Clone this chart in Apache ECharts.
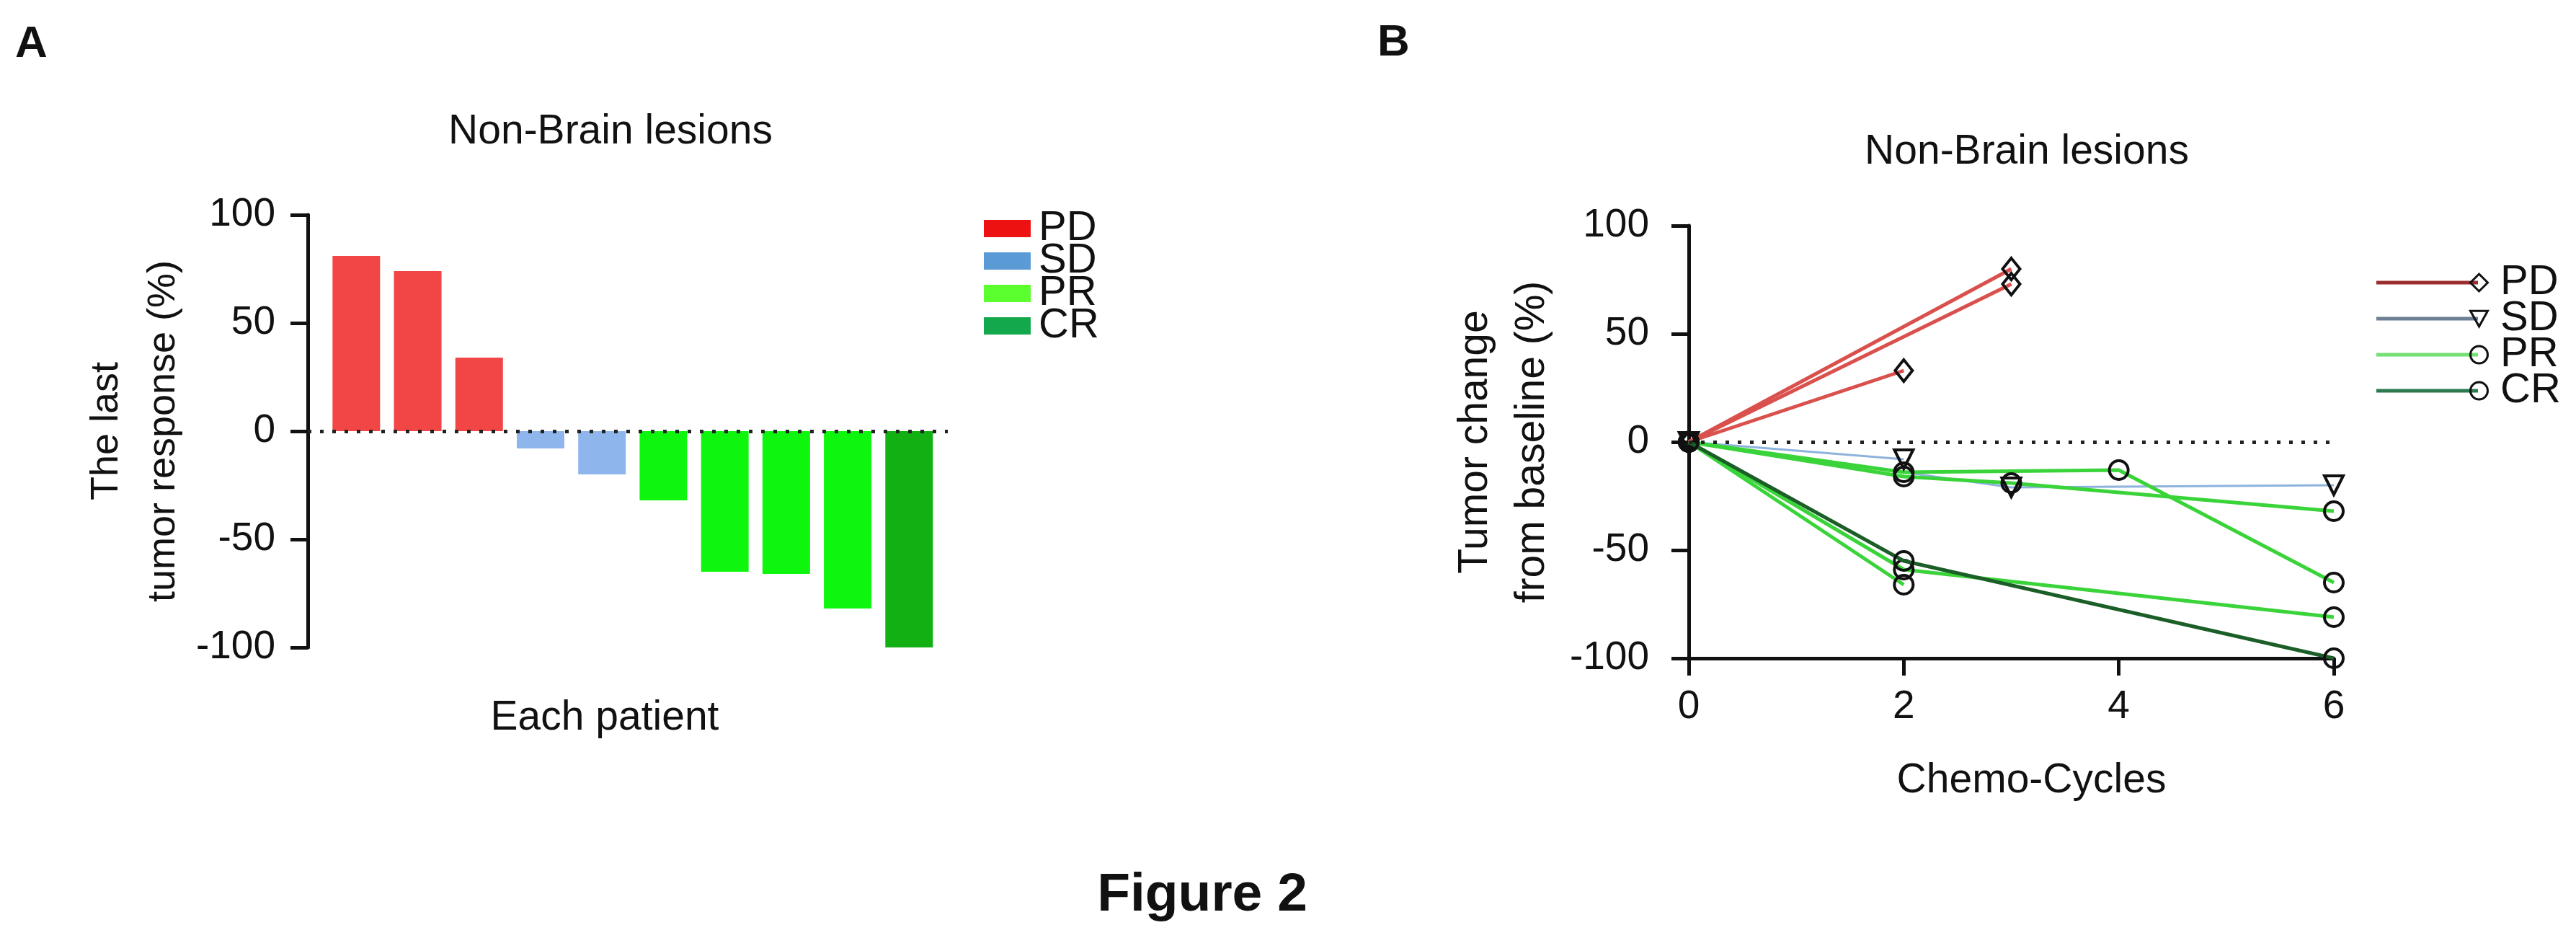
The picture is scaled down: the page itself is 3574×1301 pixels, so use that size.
<!DOCTYPE html>
<html>
<head>
<meta charset="utf-8">
<title>Figure 2</title>
<script src="https://cdn.jsdelivr.net/npm/echarts@6.0.0/dist/echarts.min.js"></script>
<style>
html,body{margin:0;padding:0;background:#fff;}
#main{width:3574px;height:1301px;}
</style>
</head>
<body>
<div id="main"></div>
<script>
// panel A : last response of each patient
var patients = [1, 2, 3, 4, 5, 6, 7, 8, 9, 10];
var lastResponse = [81, 74, 34, -8, -20, -32, -65, -66, -82, -100];
var patientGroup = ['PD', 'PD', 'PD', 'SD', 'SD', 'PR', 'PR', 'PR', 'PR', 'CR'];
var groups = ['PD', 'SD', 'PR', 'CR'];

// panel B : tumor change over chemo cycles, same patients
var courseCycles = [[0, 3], [0, 3], [0, 2], [0, 2], [0, 3, 6], [0, 2, 3, 6], [0, 2, 4, 6], [0, 2], [0, 2, 6], [0, 2, 6]];
var courseChange = [[0, 80], [0, 73], [0, 33], [0, -8], [0, -21, -20], [0, -16, -19, -32], [0, -14, -13, -65], [0, -66], [0, -59, -81], [0, -55, -100]];

var barColors = {PD: '#f24545', SD: '#8fb6ec', PR: '#0ef50e', CR: '#12b012'};
var swatchColors = {PD: '#ee1111', SD: '#5b9bd5', PR: '#5cff2e', CR: '#13a84c'};
var lineColors = {PD: '#d9504c', SD: '#8db3dd', PR: '#3ad43a', CR: '#1b5e28'};
var keyLineColors = {PD: '#9b2d2d', SD: '#6d7f95', PR: '#72e072', CR: '#2a7a4e'};
var markers = {PD: 'diamond', SD: 'triangle', PR: 'circle', CR: 'circle'};
var keyMarkers = {PD: 'diamond', SD: 'path://M0,0L20,0L10,18Z', PR: 'circle', CR: 'circle'};

var FONT = 'Liberation Sans, Arial, sans-serif';
var myChart = echarts.init(document.getElementById('main'));

function yAxisOf(gridIndex, name, gap, labelMargin, nameSize) {
    return {
        type: 'value', gridIndex: gridIndex,
        min: -100, max: 100, interval: 50,
        axisLine: {show: true, lineStyle: {color: '#111', width: 5}},
        axisTick: {show: true, length: 24, lineStyle: {color: '#111', width: 5}},
        axisLabel: {fontSize: 55, color: '#111', fontFamily: FONT, margin: labelMargin},
        splitLine: {show: false},
        name: name, nameLocation: 'middle', nameRotate: 90, nameGap: gap,
        nameTextStyle: {fontSize: nameSize, color: '#111', fontFamily: FONT, lineHeight: 79}
    };
}

function zeroLine() {
    return {
        silent: true, symbol: 'none', label: {show: false},
        lineStyle: {type: [5, 12], color: '#222', width: 5},
        emphasis: {disabled: true},
        data: [{yAxis: 0}]
    };
}

var series = [];
// bars, one series per response group so the legend can list them
groups.forEach(function (g, k) {
    var d = [];
    patients.forEach(function (p, i) {
        if (patientGroup[i] === g) d.push([p, lastResponse[i]]);
    });
    var s = {
        name: g + ' bars', type: 'bar', xAxisIndex: 0, yAxisIndex: 0,
        barWidth: 66, barGap: '-100%',
        itemStyle: {color: barColors[g]},
        data: d
    };
    if (k === 0) s.markLine = zeroLine();
    series.push(s);
});

// lines, one series per patient
courseCycles.forEach(function (cyc, i) {
    var g = patientGroup[i];
    var s = {
        name: g, type: 'line', xAxisIndex: 1, yAxisIndex: 1,
        symbol: markers[g],
        symbolSize: g === 'PD' ? [24, 30] : 26,
        symbolRotate: g === 'SD' ? 180 : 0,
        showAllSymbol: true,
        lineStyle: {color: lineColors[g], width: g === 'SD' ? 3 : 5},
        itemStyle: {color: 'rgba(255,255,255,0)', borderColor: '#111', borderWidth: 4},
        emphasis: {disabled: true},
        z: g === 'CR' ? 3 : 2,
        data: cyc.map(function (c, j) { return [c, courseChange[i][j]]; })
    };
    if (i === 0) s.markLine = zeroLine();
    series.push(s);
});

var option = {
    animation: false,
    backgroundColor: '#fff',
    textStyle: {fontFamily: FONT},
    title: [
        {text: 'A', left: 16, top: 26, textStyle: {fontSize: 62, fontWeight: 'bold', color: '#111', fontFamily: FONT}},
        {text: 'B', left: 1906, top: 24, textStyle: {fontSize: 62, fontWeight: 'bold', color: '#111', fontFamily: FONT}},
        {text: 'Non-Brain lesions', left: 842, textAlign: 'center', top: 150, textStyle: {fontSize: 57, fontWeight: 'normal', color: '#111', fontFamily: FONT}},
        {text: 'Non-Brain lesions', left: 2807, textAlign: 'center', top: 178, textStyle: {fontSize: 57, fontWeight: 'normal', color: '#111', fontFamily: FONT}},
        {text: 'Figure 2', left: 1663, textAlign: 'center', top: 1200, textStyle: {fontSize: 75, fontWeight: 'bold', color: '#111', fontFamily: FONT}}
    ],
    legend: [
        {
            orient: 'vertical', left: 1360, top: 283,
            itemWidth: 65, itemHeight: 24, itemGap: -13, icon: 'rect',
            selectedMode: false,
            textStyle: {fontSize: 58, lineHeight: 44, color: '#111', fontFamily: FONT, padding: [0, 0, 0, 6]},
            formatter: function (n) { return n.replace(' bars', ''); },
            data: groups.map(function (g) {
                return {name: g + ' bars', itemStyle: {color: swatchColors[g]}};
            })
        },
        {
            // line part of the key
            orient: 'vertical', left: 3292, top: 358,
            itemWidth: 141, itemHeight: 5, itemGap: -8,
            selectedMode: false,
            textStyle: {fontSize: 58, lineHeight: 48, color: '#111', fontFamily: FONT, padding: [0, 0, 0, 26]},
            data: groups.map(function (g) {
                return {name: g, icon: 'rect', itemStyle: {color: keyLineColors[g], borderWidth: 0}};
            })
        },
        {
            // marker at the end of each key line
            orient: 'vertical', left: 3421, top: 358,
            itemWidth: 24, itemHeight: 24, itemGap: -8,
            selectedMode: false,
            textStyle: {fontSize: 58, lineHeight: 48, color: '#111', fontFamily: FONT},
            formatter: function () { return '\u00a0'; },
            data: groups.map(function (g) {
                return {name: g, icon: keyMarkers[g], itemStyle: {color: 'rgba(255,255,255,0)', borderColor: '#111', borderWidth: 3}};
            })
        }
    ],
    grid: [
        {left: 427, top: 298, width: 888, height: 600, containLabel: false},
        {left: 2343, top: 313, width: 895, height: 600, containLabel: false}
    ],
    xAxis: [
        {
            type: 'value', gridIndex: 0, min: 0.21, max: 10.63,
            axisLine: {show: false, onZero: false}, axisTick: {show: false},
            axisLabel: {show: false}, splitLine: {show: false},
            name: 'Each patient', nameLocation: 'middle', nameGap: 70,
            nameTextStyle: {fontSize: 57, color: '#111', fontFamily: FONT, padding: [0, 64, 0, 0]}
        },
        {
            type: 'value', gridIndex: 1, min: 0, max: 6, interval: 2,
            axisLine: {show: true, onZero: false, lineStyle: {color: '#111', width: 5}},
            axisTick: {show: true, length: 24, lineStyle: {color: '#111', width: 5}},
            axisLabel: {fontSize: 55, color: '#111', fontFamily: FONT, margin: 40},
            splitLine: {show: false},
            name: 'Chemo-Cycles', nameLocation: 'middle', nameGap: 142,
            nameTextStyle: {fontSize: 57, color: '#111', fontFamily: FONT, padding: [0, 0, 0, 56]}
        }
    ],
    yAxis: [
        yAxisOf(0, 'The last\ntumor response (%)', 160, 45, 54),
        yAxisOf(1, 'Tumor change\nfrom baseline (%)', 177, 55, 57)
    ],
    series: series
};

myChart.setOption(option);
</script>
</body>
</html>
